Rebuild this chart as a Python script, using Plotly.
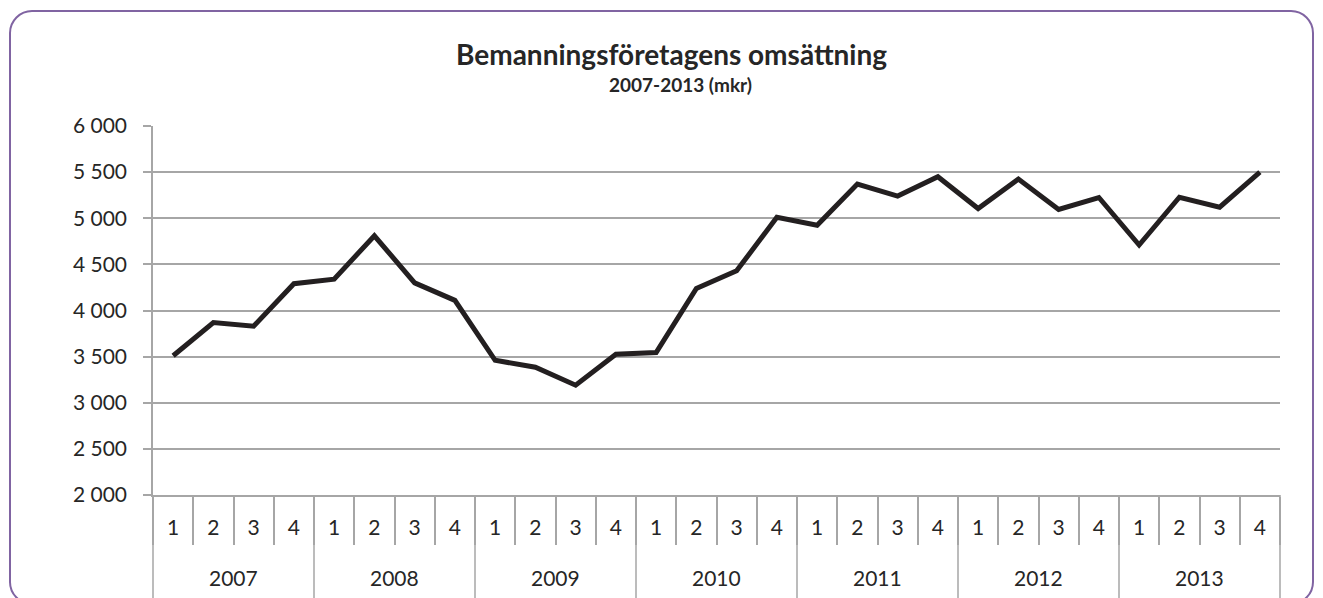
import plotly.graph_objects as go

years = ["2007", "2008", "2009", "2010", "2011", "2012", "2013"]
quarters = ["1", "2", "3", "4"]
values = [3510, 3870, 3830, 4290, 4340, 4810, 4300, 4110,
          3460, 3385, 3190, 3525, 3545, 4240, 4430, 5010,
          4925, 5370, 5240, 5450, 5105, 5425, 5095, 5225,
          4710, 5228, 5120, 5500]
y_ticks = [2000, 2500, 3000, 3500, 4000, 4500, 5000, 5500, 6000]
y_ticktext = ["2 000", "2 500", "3 000", "3 500", "4 000", "4 500", "5 000", "5 500", "6 000"]
title_text = "Bemanningsföretagens omsättning"
subtitle_text = "2007-2013 (mkr)"

x_cat = [f"{y} K{q}" for y in years for q in quarters]
x_q = [q for _ in years for q in quarters]
n_cat = len(x_cat)
nq = len(quarters)

W, H = 1323, 598
L, R, T, B = 153, 43, 126, 103
pw, ph = W - L - R, H - T - B

def px(x):
    return (x - L) / pw

def py(y):
    return (H - B - y) / ph

def rounded_rect(x0, y0, x1, y1, r):
    k = 0.45
    pts = [
        f"M {px(x0 + r)},{py(y0)}",
        f"L {px(x1 - r)},{py(y0)}",
        f"C {px(x1 - r * k)},{py(y0)} {px(x1)},{py(y0 + r * k)} {px(x1)},{py(y0 + r)}",
        f"L {px(x1)},{py(y1 - r)}",
        f"C {px(x1)},{py(y1 - r * k)} {px(x1 - r * k)},{py(y1)} {px(x1 - r)},{py(y1)}",
        f"L {px(x0 + r)},{py(y1)}",
        f"C {px(x0 + r * k)},{py(y1)} {px(x0)},{py(y1 - r * k)} {px(x0)},{py(y1 - r)}",
        f"L {px(x0)},{py(y0 + r)}",
        f"C {px(x0)},{py(y0 + r * k)} {px(x0 + r * k)},{py(y0)} {px(x0 + r)},{py(y0)}",
        "Z",
    ]
    return " ".join(pts)

FONT = "Lato, 'Open Sans', sans-serif"
GRID = "#a6a6a6"
TXT = "#262626"

fig = go.Figure()
fig.add_trace(go.Scatter(
    x=x_cat, y=values, mode="lines",
    line=dict(color="#231f20", width=5),
    showlegend=False, hoverinfo="y",
))

shapes = [dict(
    type="path", xref="paper", yref="paper",
    path=rounded_rect(10, 11, 1313, 604, 22),
    line=dict(color="#8064a2", width=2), fillcolor="rgba(0,0,0,0)", layer="below",
)]
# year dividers at group boundaries
for i in range(len(years) + 1):
    xd = (i * nq) / n_cat
    shapes.append(dict(
        type="line", xref="x domain", yref="paper",
        x0=xd, x1=xd, y0=0, y1=py(600),
        line=dict(color=GRID, width=1.5), layer="above",
    ))

annotations = [
    dict(text=f"<b>{title_text}</b>", xref="paper", yref="paper",
         x=px(671), y=py(54), xanchor="center", yanchor="middle", showarrow=False,
         font=dict(size=28, family=FONT, color=TXT)),
    dict(text=f"<b>{subtitle_text}</b>", xref="paper", yref="paper",
         x=px(680), y=py(85), xanchor="center", yanchor="middle", showarrow=False,
         font=dict(size=19, family=FONT, color=TXT)),
]
for i, yr in enumerate(years):
    annotations.append(dict(
        text=yr, xref="x domain", yref="paper",
        x=(i * nq + nq / 2) / n_cat, y=py(577),
        xanchor="center", yanchor="middle", showarrow=False,
        font=dict(size=21, family=FONT, color=TXT),
    ))

fig.update_layout(
    width=W, height=H,
    margin=dict(l=L, r=R, t=T, b=B),
    paper_bgcolor="white", plot_bgcolor="white",
    font=dict(family=FONT, color=TXT, size=21),
    shapes=shapes, annotations=annotations,
)

fig.update_yaxes(
    range=[2000, 6000], tickvals=y_ticks, ticktext=y_ticktext,
    showgrid=True, gridcolor=GRID, gridwidth=1.5,
    showline=True, linecolor=GRID, linewidth=1.5,
    ticks="outside", ticklen=8, tickcolor=GRID, tickwidth=1.5,
    ticklabelstandoff=12, zeroline=False,
    tickfont=dict(size=21, family=FONT, color=TXT),
)
fig.update_xaxes(
    type="category", range=[-0.5, n_cat - 0.5],
    tickvals=x_cat, ticktext=x_q,
    showline=True, linecolor=GRID, linewidth=1.5,
    showgrid=False,
    ticks="outside", tickson="boundaries", ticklen=48, tickcolor=GRID, tickwidth=1.5,
    ticklabelstandoff=13,
    tickfont=dict(size=21, family=FONT, color=TXT),
)

fig.write_html("out.html", config={"displayModeBar": False},
               post_script="document.body.style.margin='0';")
